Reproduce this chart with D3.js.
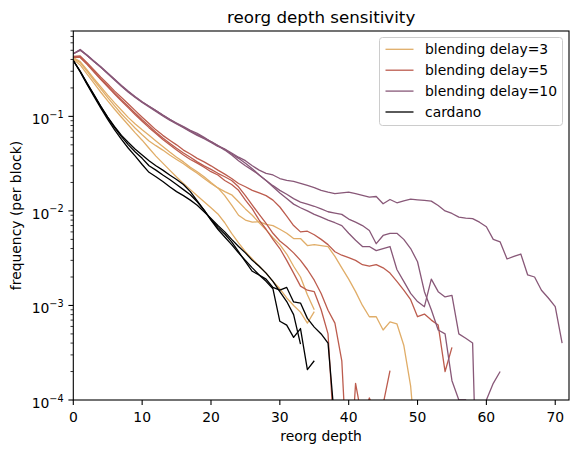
<!DOCTYPE html>
<html>
<head>
<meta charset="utf-8">
<script src="https://cdn.jsdelivr.net/npm/d3@7"></script>
<style>
  body { margin: 0; background: #fff; }
  text { font-family: "DejaVu Sans", sans-serif; fill: #000; }
</style>
</head>
<body>
<div id="chart"></div>
<script>
// frequency (per block) for each reorg depth, index = depth
var delay3_a = [0.40,0.35,0.28,0.225,0.18,0.146,0.119,0.098,0.081,0.067,0.056,0.046,0.038,0.032,0.027,0.0228,0.0195,0.0168,0.0145,0.0125,0.0108,0.0093,0.0075,0.0058,0.0046,0.0037,0.0031,0.0026,0.0022,0.0018,0.0015,0.0012,0.0010,0.00085,0.00065,0.00086];
var delay3_b = [0.41,0.37,0.30,0.24,0.195,0.158,0.129,0.106,0.089,0.075,0.064,0.055,0.049,0.044,0.039,0.035,0.0315,0.028,0.025,0.022,0.0195,0.0175,0.0160,0.0148,0.0125,0.0105,0.0090,0.0075,0.0063,0.0052,0.0044,0.0035,0.0026,0.0020,0.0013,0.0009];
var delay3_c = [0.42,0.38,0.31,0.25,0.205,0.168,0.139,0.116,0.097,0.083,0.072,0.063,0.055,0.048,0.042,0.037,0.033,0.029,0.026,0.023,0.020,0.0175,0.0145,0.0115,0.0090,0.0080,0.0076,0.0077,0.0072,0.0070,0.0064,0.0058,0.0051,0.0051,0.0043,0.0044,0.0043,0.0042,0.0033,0.0025,0.0019,0.0014,0.0010,0.00076,0.00076,0.00055,0.00067,0.00064,0.00038,0.00014,0.00002];

var delay5_a = [0.42,0.42,0.355,0.295,0.245,0.205,0.172,0.145,0.123,0.104,0.089,0.076,0.066,0.057,0.050,0.044,0.039,0.035,0.032,0.029,0.026,0.024,0.021,0.019,0.0165,0.013,0.0105,0.0080,0.0064,0.0050,0.0040,0.0030,0.0022,0.0016,0.00145,0.0014,0.0009,0.0005,0.00003];
var delay5_b = [0.42,0.425,0.36,0.30,0.25,0.21,0.176,0.149,0.127,0.108,0.092,0.079,0.068,0.059,0.052,0.046,0.041,0.037,0.033,0.030,0.0275,0.025,0.023,0.021,0.018,0.0145,0.0115,0.0092,0.0074,0.0058,0.0048,0.0042,0.0036,0.0030,0.0024,0.00185,0.00134,0.00089,0.00065,0.00026,0.00001,0.00015,0.00006,0.000105,0.00007,0.00009,0.000205];
var delay5_c = [0.43,0.435,0.37,0.31,0.26,0.22,0.185,0.158,0.135,0.115,0.098,0.084,0.072,0.063,0.056,0.050,0.044,0.040,0.036,0.033,0.030,0.027,0.0245,0.022,0.0195,0.018,0.0165,0.0155,0.0145,0.0130,0.0110,0.0088,0.0070,0.0060,0.0061,0.0056,0.0050,0.0044,0.0037,0.0034,0.0032,0.0030,0.0027,0.0026,0.0027,0.0025,0.0022,0.0018,0.00145,0.00115,0.00076,0.00081,0.0007,0.00062,0.0002,0.00036];

var delay10_a = [0.46,0.51,0.44,0.38,0.33,0.285,0.245,0.21,0.182,0.16,0.142,0.128,0.115,0.103,0.093,0.085,0.078,0.071,0.066,0.060,0.054,0.049,0.045,0.041,0.037,0.034,0.030,0.027,0.025,0.024,0.022,0.021,0.0205,0.0196,0.0186,0.0176,0.0165,0.0158,0.0152,0.0155,0.0158,0.0152,0.0146,0.0140,0.0142,0.0119,0.0132,0.0122,0.0128,0.0133,0.0131,0.0129,0.0127,0.0114,0.0100,0.0094,0.0086,0.0084,0.0083,0.0076,0.0068,0.0050,0.0047,0.0031,0.0033,0.0035,0.0021,0.0020,0.00145,0.0012,0.00097,0.0004];
var delay10_b = [0.46,0.50,0.44,0.38,0.33,0.283,0.243,0.208,0.180,0.158,0.140,0.126,0.113,0.101,0.091,0.083,0.076,0.069,0.063,0.058,0.053,0.048,0.045,0.040,0.036,0.032,0.028,0.024,0.021,0.0185,0.0165,0.015,0.0135,0.0124,0.0118,0.0112,0.0105,0.0098,0.0095,0.0092,0.0082,0.0076,0.0070,0.0062,0.0045,0.0055,0.0058,0.0058,0.0050,0.0040,0.0029,0.0014,0.0009,0.00055,0.0005,0.00016,0.0001,0.0001,0.00003,0.00003,0.0001,0.00015,0.0002];
var delay10_c = [0.46,0.505,0.445,0.385,0.335,0.288,0.247,0.212,0.184,0.161,0.143,0.128,0.115,0.103,0.093,0.084,0.077,0.070,0.064,0.059,0.054,0.049,0.044,0.039,0.034,0.030,0.027,0.024,0.021,0.018,0.0155,0.0135,0.0118,0.0108,0.0100,0.0092,0.0086,0.0080,0.0075,0.0070,0.0058,0.0049,0.0042,0.0042,0.0038,0.0040,0.0042,0.0024,0.0018,0.00134,0.0011,0.00097,0.0019,0.0014,0.00123,0.00128,0.0005,0.00045,0.0004,0.000001];

var cardano_a = [0.39,0.30,0.225,0.170,0.128,0.098,0.078,0.063,0.053,0.045,0.039,0.034,0.030,0.027,0.024,0.0215,0.019,0.016,0.0128,0.0102,0.0080,0.0064,0.0053,0.0044,0.0036,0.0030,0.0025,0.0021,0.0018,0.0015,0.00068,0.00062,0.00046,0.00057,0.00021,0.00026];
var cardano_b = [0.39,0.30,0.222,0.168,0.127,0.097,0.076,0.061,0.050,0.042,0.036,0.030,0.027,0.024,0.0215,0.019,0.0168,0.0148,0.0125,0.0102,0.0081,0.0067,0.0057,0.0047,0.0037,0.0029,0.0023,0.0021,0.0019,0.00155,0.00145,0.00155,0.00109,0.00106,0.00073,0.00059,0.0005,0.0004,0.000055];
var cardano_c = [0.39,0.295,0.218,0.163,0.122,0.093,0.072,0.057,0.046,0.038,0.031,0.0256,0.023,0.0205,0.018,0.016,0.0145,0.013,0.0115,0.0098,0.0083,0.0070,0.0060,0.0050,0.0042,0.0036,0.0030,0.0026,0.0022,0.0018,0.0014,0.0011,0.0008,0.00039];

var seriesNames = ["blending delay=3", "blending delay=5", "blending delay=10", "cardano"];
var seriesColors = ["#e0ad68", "#bc5c4e", "#885878", "#000000"];
var seriesRuns = [
    [delay3_a, delay3_b, delay3_c],
    [delay5_a, delay5_b, delay5_c],
    [delay10_a, delay10_b, delay10_c],
    [cardano_a, cardano_b, cardano_c]
];

var xTickValues = [0, 10, 20, 30, 40, 50, 60, 70];
var yTickExponents = [-4, -3, -2, -1];

// Dimensions du graphique
var margin = {top: 31, right: 9, bottom: 53, left: 73.3},
    width = 578 - margin.left - margin.right,
    height = 453 - margin.top - margin.bottom;

var x = d3.scaleLinear().domain([0, 72]).range([0, width]);
var y = d3.scaleLog().domain([1e-4, 0.8]).range([height, 0]);

var svg = d3.select("#chart")
    .append("svg")
    .attr("width", 578)
    .attr("height", 453);

var g = svg.append("g")
    .attr("transform", "translate(" + margin.left + "," + margin.top + ")");

g.append("clipPath")
    .attr("id", "plot-clip")
    .append("rect")
    .attr("width", width)
    .attr("height", height);

var line = d3.line()
    .x(function(d, i) { return x(i); })
    .y(function(d) { return y(d); });

// courbes, dans l'ordre de tracé
var lines = g.append("g").attr("clip-path", "url(#plot-clip)");
seriesRuns.forEach(function(runs, s) {
    runs.forEach(function(run) {
        lines.append("path")
            .datum(run)
            .attr("d", line)
            .attr("fill", "none")
            .attr("stroke", seriesColors[s])
            .attr("stroke-width", 1.3)
            .attr("stroke-linejoin", "round");
    });
});

// axe x
var xAxis = g.append("g").attr("transform", "translate(0," + height + ")");
xAxis.selectAll("line")
    .data(xTickValues)
    .enter().append("line")
    .attr("x1", function(d) { return x(d); })
    .attr("x2", function(d) { return x(d); })
    .attr("y1", 0)
    .attr("y2", 4.9)
    .attr("stroke", "black")
    .attr("stroke-width", 1.1);
xAxis.selectAll("text")
    .data(xTickValues)
    .enter().append("text")
    .attr("x", function(d) { return x(d); })
    .attr("y", 22)
    .attr("text-anchor", "middle")
    .style("font-size", "13.9px")
    .text(function(d) { return d; });

// axe y (log) : ticks majeurs et mineurs
var minorTicks = [];
yTickExponents.forEach(function(e) {
    for (var k = 2; k <= 9; k++) {
        var v = k * Math.pow(10, e);
        if (v <= y.domain()[1]) minorTicks.push(v);
    }
});
g.selectAll(".minor")
    .data(minorTicks)
    .enter().append("line")
    .attr("class", "minor")
    .attr("x1", -2.8)
    .attr("x2", 0)
    .attr("y1", function(d) { return y(d); })
    .attr("y2", function(d) { return y(d); })
    .attr("stroke", "black")
    .attr("stroke-width", 0.8);
g.selectAll(".major")
    .data(yTickExponents)
    .enter().append("line")
    .attr("class", "major")
    .attr("x1", -4.9)
    .attr("x2", 0)
    .attr("y1", function(d) { return y(Math.pow(10, d)); })
    .attr("y2", function(d) { return y(Math.pow(10, d)); })
    .attr("stroke", "black")
    .attr("stroke-width", 1.1);
var yLabels = g.selectAll(".ylab")
    .data(yTickExponents)
    .enter().append("text")
    .attr("class", "ylab")
    .attr("x", -9.7)
    .attr("y", function(d) { return y(Math.pow(10, d)) + 8; })
    .attr("text-anchor", "end")
    .style("font-size", "13.9px");
yLabels.append("tspan").text("10");
yLabels.append("tspan")
    .attr("dy", -6.5)
    .style("font-size", "9.7px")
    .text(function(d) { return "\u2212" + Math.abs(d); });

// cadre
g.append("rect")
    .attr("width", width)
    .attr("height", height)
    .attr("fill", "none")
    .attr("stroke", "black")
    .attr("stroke-width", 1.1);

// titres
svg.append("text")
    .attr("x", margin.left + width / 2)
    .attr("y", 23)
    .attr("text-anchor", "middle")
    .style("font-size", "16.7px")
    .text("reorg depth sensitivity");
svg.append("text")
    .attr("x", margin.left + width / 2)
    .attr("y", 441)
    .attr("text-anchor", "middle")
    .style("font-size", "13.9px")
    .text("reorg depth");
svg.append("text")
    .attr("transform", "translate(21," + (margin.top + height / 2) + ") rotate(-90)")
    .attr("text-anchor", "middle")
    .style("font-size", "13.9px")
    .text("frequency (per block)");

// légende
var legend = svg.append("g").attr("transform", "translate(379.5,37.5)");
legend.append("rect")
    .attr("width", 183)
    .attr("height", 88)
    .attr("rx", 3)
    .attr("fill", "white")
    .attr("fill-opacity", 0.8)
    .attr("stroke", "#cccccc")
    .attr("stroke-width", 1);
var items = legend.selectAll(".item")
    .data(seriesNames)
    .enter().append("g")
    .attr("class", "item")
    .attr("transform", function(d, i) { return "translate(0," + (11.8 + i * 20.9) + ")"; });
items.append("line")
    .attr("x1", 6)
    .attr("x2", 34)
    .attr("stroke", function(d, i) { return seriesColors[i]; })
    .attr("stroke-width", 1.3);
items.append("text")
    .attr("x", 45.5)
    .attr("y", 5)
    .style("font-size", "13.9px")
    .text(function(d) { return d; });
</script>
</body>
</html>
